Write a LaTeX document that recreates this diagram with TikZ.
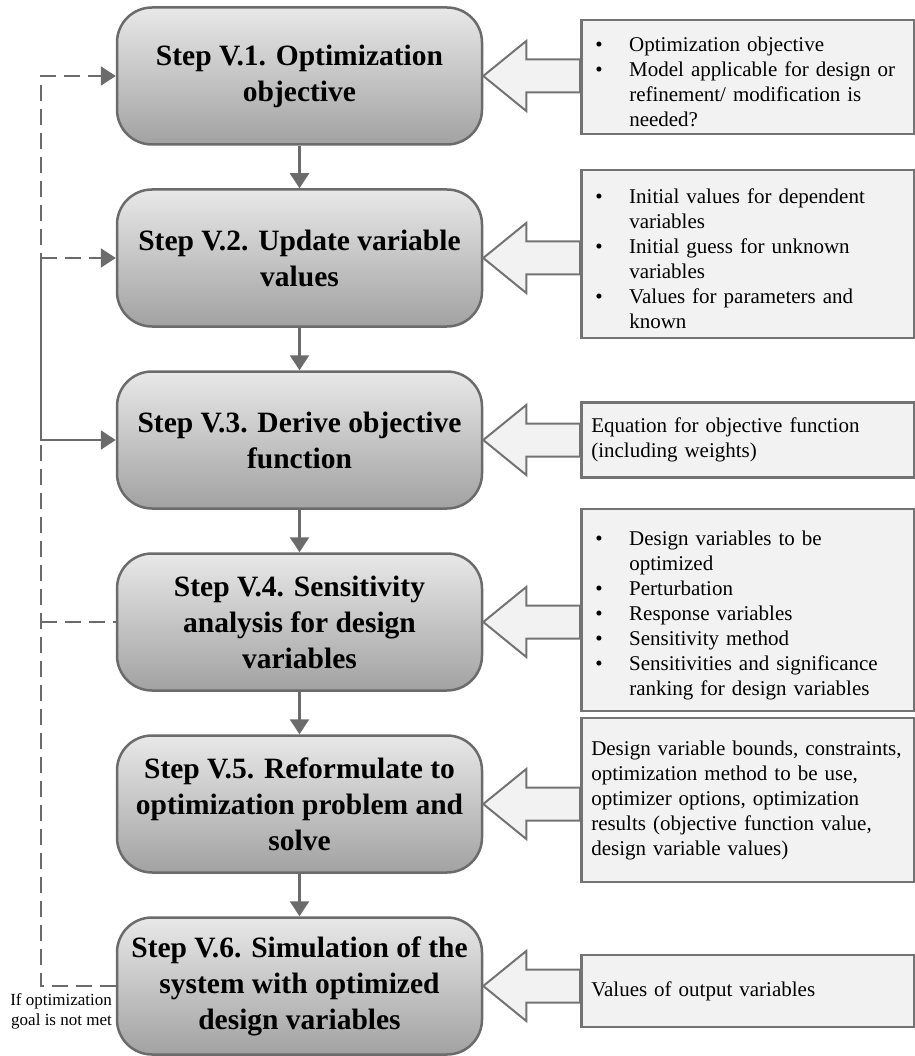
\documentclass[tikz,border=0pt]{standalone}
\usepackage{fontspec}
\setmainfont{Liberation Serif}
\usetikzlibrary{arrows.meta,calc}

\definecolor{stepline}{HTML}{6B6B6B}
\definecolor{steptop}{HTML}{E8E8E8}
\definecolor{stepbot}{HTML}{A2A2A2}
\definecolor{infofill}{HTML}{F2F2F2}
\definecolor{infoline}{HTML}{737373}
\definecolor{connline}{HTML}{6B6B6B}

% bullet item with hanging indent (lines inside an item are split with \newline)
\newcommand{\bul}[1]{\par\noindent\hangindent=34pt\hangafter=1\makebox[34pt][l]{\textbullet}#1\par}

% hollow block arrow from an info box to a step box
\newcommand{\feed}[2]{%
  \filldraw[draw=infoline, fill=infofill, line width=2pt, line join=miter]
    let \p1=(#1.east), \p2=(#2.west) in
    (\x1,\y1) -- (\x1+43pt,\y1+35pt) -- (\x1+43pt,\y1+16.5pt) -- (\x2,\y1+16.5pt)
    -- (\x2,\y1-16.5pt) -- (\x1+43pt,\y1-16.5pt) -- (\x1+43pt,\y1-35pt) -- cycle;}

\tikzset{
  stepbox/.style={draw=stepline, line width=2.5pt, rounded corners=35pt,
    top color=steptop, bottom color=stepbot, minimum width=365pt,
    minimum height=137pt, align=center, inner sep=0pt,
    font=\fontsize{29.5}{36}\selectfont\bfseries},
  infobox/.style={draw=infoline, line width=2.5pt, fill=infofill, anchor=west,
    minimum width=333pt, text width=305pt, inner xsep=14pt, inner ysep=0pt,
    align=left, font=\fontsize{21}{25}\selectfont},
  plainbox/.style={infobox, text width=313pt, inner xsep=10pt},
  conn/.style={draw=connline, line width=2.5pt},
  dashconn/.style={conn, dash pattern=on 16pt off 8pt},
  tip/.style={-{Triangle[length=15pt,width=19pt]}},
  notetext/.style={anchor=east, align=right, inner sep=0pt,
    font=\fontsize{17}{20}\selectfont}
}

\begin{document}
\begin{tikzpicture}[x=1pt,y=-1pt]
\useasboundingbox (0,0) rectangle (914,1056);

% process steps
\node[stepbox] (s1) at (299.5,76)  {Step V.1. Optimization\\objective};
\node[stepbox] (s2) at (299.5,258) {Step V.2. Update variable\\values};
\node[stepbox] (s3) at (299.5,440) {Step V.3. Derive objective\\function};
\node[stepbox] (s4) at (299.5,622) {Step V.4. Sensitivity\\analysis for design\\variables};
\node[stepbox] (s5) at (299.5,804) {Step V.5. Reformulate to\\optimization problem and\\solve};
\node[stepbox] (s6) at (299.5,986) {Step V.6. Simulation of the\\system with optimized\\design variables};

% inputs / outputs of each step
\node[infobox, minimum height=114pt] (b1) at (580,77)
  {\bul{Optimization objective}\bul{Model applicable for design or\newline refinement/ modification is\newline needed?}};
\node[infobox, minimum height=168pt] (b2) at (580,254)
  {\bul{Initial values for dependent\newline variables}\bul{Initial guess for unknown\newline variables}\bul{Values for parameters and\newline known}};
\node[plainbox, minimum height=75pt] (b3) at (580,440)
  {Equation for objective function\\(including weights)};
\node[infobox, minimum height=202pt] (b4) at (580,610)
  {\bul{Design variables to be\newline optimized}\bul{Perturbation}\bul{Response variables}\bul{Sensitivity method}\bul{Sensitivities and significance\newline ranking for design variables}};
\node[plainbox, minimum height=164pt] (b5) at (580,800)
  {Design variable bounds, constraints,\\optimization method to be use,\\optimizer options, optimization\\results (objective function value,\\design variable values)};
\node[plainbox, minimum height=72pt] (b6) at (580,991)
  {Values of output variables};

% block arrows feeding the steps
\feed{s1}{b1}
\feed{s2}{b2}
\feed{s3}{b3}
\feed{s4}{b4}
\feed{s5}{b5}
\feed{s6}{b6}

% main flow
\draw[conn,tip] (s1.south) -- (s2.north);
\draw[conn,tip] (s2.south) -- (s3.north);
\draw[conn,tip] (s3.south) -- (s4.north);
\draw[conn,tip] (s4.south) -- (s5.north);
\draw[conn,tip] (s5.south) -- (s6.north);

% feedback loop
\coordinate (rail) at (41,0);
\draw[dashconn,tip] (s6.west) -- (rail |- s6.west) -- (rail |- s1.west) -- (s1.west);
\draw[dashconn,tip] (rail |- s2.west) -- (s2.west);
\draw[conn,tip] (rail |- s2.west) -- (rail |- s3.west) -- (s3.west);
\draw[dashconn] (rail |- s4.west) -- (s4.west);

\node[notetext] (note) at (112,1011) {If optimization\\goal is not met};
\end{tikzpicture}
\end{document}
